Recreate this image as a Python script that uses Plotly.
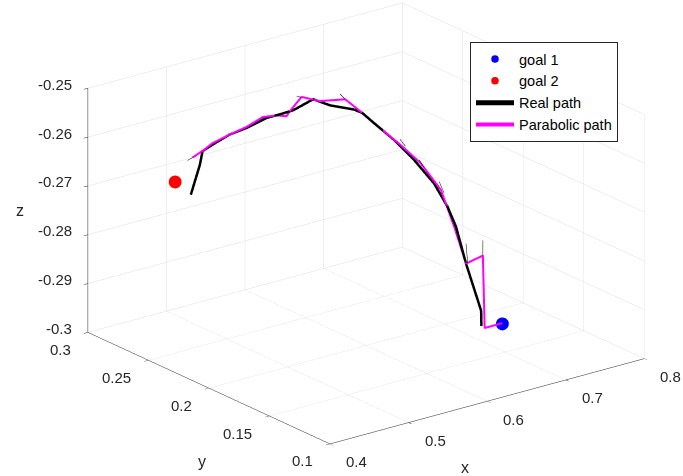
import plotly.graph_objects as go
import math

# ---- data ----
goal1 = [0.747, 0.183, -0.300]
goal2 = [0.477, 0.278, -0.270]

real_x = [0.4900, 0.4975, 0.4997, 0.5080, 0.5219, 0.5357, 0.5524, 0.5634, 0.5745, 0.5911,
          0.6049, 0.6243, 0.6313, 0.6409, 0.6575, 0.6742, 0.6908, 0.7019, 0.7088, 0.7171,
          0.7296, 0.7254]
real_y = [0.2734, 0.2708, 0.2700, 0.2671, 0.2622, 0.2573, 0.2515, 0.2476, 0.2437, 0.2379,
          0.2330, 0.2262, 0.2237, 0.2203, 0.2145, 0.2086, 0.2028, 0.1989, 0.1964, 0.1935,
          0.1891, 0.1862]
real_z = [-0.2727, -0.2666, -0.2638, -0.2625, -0.2605, -0.2592, -0.2572, -0.2565, -0.2557, -0.2535,
          -0.2548, -0.2557, -0.2564, -0.2585, -0.2620, -0.2662, -0.2711, -0.2759, -0.2800, -0.2876,
          -0.2973, -0.2999]

para_x = [0.4914, 0.5011, 0.5080, 0.5219, 0.5357, 0.5495, 0.5607, 0.5690, 0.5717, 0.5814,
          0.5966, 0.6174, 0.6299, 0.6465, 0.6631, 0.6797, 0.6963, 0.7074, 0.7171, 0.7310,
          0.7245, 0.7470]
para_y = [0.2729, 0.2695, 0.2671, 0.2622, 0.2573, 0.2525, 0.2486, 0.2456, 0.2447, 0.2413,
          0.2359, 0.2286, 0.2242, 0.2184, 0.2125, 0.2067, 0.2008, 0.1970, 0.1935, 0.1886,
          0.1829, 0.1830]
para_z = [-0.2651, -0.2635, -0.2622, -0.2605, -0.2590, -0.2570, -0.2567, -0.2569, -0.2559, -0.2530,
          -0.2539, -0.2536, -0.2561, -0.2596, -0.2631, -0.2669, -0.2724, -0.2800, -0.2876, -0.2860,
          -0.2999, -0.2999]

# thin tangent segments (pairs separated by None)
seg_x = [0.4872, 0.4928, None, 0.5773, 0.5828, None, 0.6132, 0.6174, None, 0.6625, 0.6672, None,
         0.6783, 0.6824, None, 0.6949, 0.6991, None, 0.7171, 0.7185, None, 0.7310, 0.7310]
seg_y = [0.2744, 0.2724, None, 0.2427, 0.2408, None, 0.2301, 0.2286, None, 0.2127, 0.2111, None,
         0.2072, 0.2057, None, 0.2013, 0.1999, None, 0.1935, 0.1930, None, 0.1886, 0.1886]
seg_z = [-0.2657, -0.2649, None, -0.2528, -0.2532, None, -0.2525, -0.2536, None, -0.2619, -0.2634, None,
         -0.2662, -0.2677, None, -0.2707, -0.2731, None, -0.2835, -0.2876, None, -0.2829, -0.2860]

x_ticks = [0.4, 0.5, 0.6, 0.7, 0.8]
y_ticks = [0.1, 0.15, 0.2, 0.25, 0.3]
z_ticks = [-0.3, -0.29, -0.28, -0.27, -0.26, -0.25]
x_text = ["0.4", "0.5", "0.6", "0.7", "0.8"]
y_text = ["0.1", "0.15", "0.2", "0.25", "0.3"]
z_text = ["-0.3", "-0.29", "-0.28", "-0.27", "-0.26", "-0.25"]

X_RANGE = [0.4, 0.8]
Y_RANGE = [0.1, 0.3]
Z_RANGE = [-0.3, -0.25]

FONT = "Liberation Sans, Arial, sans-serif"
TXT = "#262626"

fig = go.Figure()
fig.add_trace(go.Scatter3d(x=seg_x, y=seg_y, z=seg_z, mode="lines",
                           line=dict(color="black", width=1), showlegend=False, hoverinfo="skip"))
fig.add_trace(go.Scatter3d(x=[goal1[0]], y=[goal1[1]], z=[goal1[2]], mode="markers",
                           marker=dict(color="#0000ff", size=7.5), name="goal 1"))
fig.add_trace(go.Scatter3d(x=[goal2[0]], y=[goal2[1]], z=[goal2[2]], mode="markers",
                           marker=dict(color="#ff0000", size=7.5), name="goal 2"))
fig.add_trace(go.Scatter3d(x=real_x, y=real_y, z=real_z, mode="lines",
                           line=dict(color="black", width=5), name="Real path"))
fig.add_trace(go.Scatter3d(x=para_x, y=para_y, z=para_z, mode="lines",
                           line=dict(color="#ff00ff", width=4), name="Parabolic path"))

def ax(rng, vals):
    return dict(title=dict(text=""),
                range=rng, autorange=False, tickmode="array", tickvals=vals,
                showticklabels=False,
                showgrid=True, gridcolor="#dedede", gridwidth=1,
                showline=True, linecolor=TXT, linewidth=1,
                ticks="outside", ticklen=5, tickcolor=TXT,
                showbackground=False, zeroline=False, showspikes=False)

# tick labels as scene annotations anchored at the tick positions on the front edges
tick_font = dict(size=15, color=TXT, family=FONT)
scene_ann = []
for v, t in zip(x_ticks, x_text):
    scene_ann.append(dict(x=v, y=Y_RANGE[0], z=Z_RANGE[0], text=t, showarrow=False,
                          xanchor="left", yanchor="middle", xshift=14, yshift=-18, font=tick_font))
for v, t in zip(y_ticks, y_text):
    scene_ann.append(dict(x=X_RANGE[0], y=v, z=Z_RANGE[0], text=t, showarrow=False,
                          xanchor="right", yanchor="middle", xshift=-15, yshift=-17, font=tick_font))
for v, t in zip(z_ticks, z_text):
    scene_ann.append(dict(x=X_RANGE[0], y=Y_RANGE[1], z=v, text=t, showarrow=False,
                          xanchor="right", yanchor="middle", xshift=-14, yshift=4, font=tick_font))

el = math.radians(20.7)
az = math.radians(52.5)
d = 2.0
S = 1.665
AX, AY, AZ = 1 * S, 1.0035 * S, 0.6586 * S
cx, cy, cz = -0.0783 * AX, 0.0, -0.0323 * AZ
eye = dict(x=cx - d * math.cos(el) * math.cos(az), y=cy - d * math.cos(el) * math.sin(az),
           z=cz + d * math.sin(el))

title_font = dict(size=16, color=TXT, family=FONT)
fig.update_layout(
    width=683, height=476,
    margin=dict(l=0, r=0, t=0, b=0),
    paper_bgcolor="white",
    font=dict(family=FONT, color=TXT),
    scene=dict(
        domain=dict(x=[0, 1], y=[0, 1]),
        xaxis=ax(X_RANGE, x_ticks),
        yaxis=ax(Y_RANGE, y_ticks),
        zaxis=ax(Z_RANGE, z_ticks),
        aspectmode="manual", aspectratio=dict(x=AX, y=AY, z=AZ),
        camera=dict(eye=eye, up=dict(x=0, y=0, z=1), center=dict(x=cx, y=cy, z=cz),
                    projection=dict(type="orthographic")),
        annotations=scene_ann,
    ),
    legend=dict(x=470 / 683, y=1 - 42 / 476, xanchor="left", yanchor="top",
                bgcolor="white", bordercolor=TXT, borderwidth=1, itemwidth=38,
                font=dict(size=14.5, color="black", family=FONT)),
    annotations=[
        dict(text="x", x=465 / 683, y=1 - 467 / 476, xref="paper", yref="paper", showarrow=False,
             xanchor="center", yanchor="middle", font=title_font),
        dict(text="y", x=202 / 683, y=1 - 461 / 476, xref="paper", yref="paper", showarrow=False,
             xanchor="center", yanchor="middle", font=title_font),
        dict(text="z", x=20 / 683, y=1 - 210 / 476, xref="paper", yref="paper", showarrow=False,
             xanchor="center", yanchor="middle", font=title_font),
    ],
)

fig.write_html("out.html")
